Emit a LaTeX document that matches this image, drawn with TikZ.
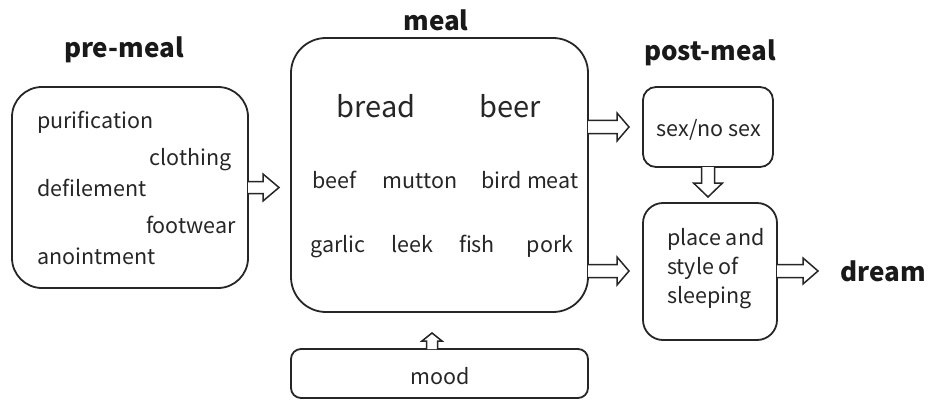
\documentclass[tikz,border=0pt]{standalone}
\usepackage{fontspec}
\setmainfont{Noto Sans CJK SC}
\begin{document}
\begin{tikzpicture}[x=1pt,y=-1pt,
  box/.style={draw=black!85,line width=1.8pt},
  harrow/.style={draw=black!85,line width=1.5pt,fill=white,line join=miter},
  txt/.style={font=\fontsize{21.5}{26}\selectfont,text=black!85,inner sep=0pt},
  word/.style={txt,text height=16pt,text depth=5pt,yshift=-3pt},
  big/.style={font=\fontsize{29}{34}\selectfont,text=black!85,inner sep=0pt,text height=21pt,text depth=6pt,yshift=-3pt},
  ttl/.style={font=\bfseries\fontsize{26}{30}\selectfont,text=black!90,inner sep=0pt}]
\useasboundingbox (0,0) rectangle (928,401);
% boxes
\draw[box,rounded corners=30pt] (12,87) rectangle (248,288);
\draw[box,rounded corners=35pt] (291,38) rectangle (588,312);
\draw[box,rounded corners=13pt] (643,87) rectangle (773,167);
\draw[box,rounded corners=20pt] (643,203) rectangle (777,340);
\draw[box,rounded corners=10pt] (291,349) rectangle (588,398);
% hollow arrows
\draw[harrow] (248,181.5) -- (263,181.5) -- (263,174) -- (279,187.5) -- (263,201) -- (263,193.5) -- (248,193.5);
\draw[harrow] (588,120.5) -- (617,120.5) -- (617,113) -- (629,127) -- (617,141) -- (617,133.5) -- (588,133.5);
\draw[harrow] (588,264.5) -- (617,264.5) -- (617,257) -- (629,271) -- (617,285) -- (617,277.5) -- (588,277.5);
\draw[harrow] (777,264.5) -- (803,264.5) -- (803,258) -- (818,271) -- (803,284) -- (803,277.5) -- (777,277.5);
\draw[harrow] (701.5,167) -- (701.5,183) -- (693.5,183) -- (708,197) -- (722.5,183) -- (714.5,183) -- (714.5,167);
\draw[harrow] (426.5,349) -- (426.5,341) -- (422,341) -- (432,333) -- (442,341) -- (437.5,341) -- (437.5,349);
% titles
\node[ttl] (t1) at (124,50) {pre-meal};
\node[ttl] (t2) at (436,20) {meal};
\node[ttl] (t3) at (710,53) {post-meal};
\node[ttl,anchor=west] (t4) at (840,271) {dream};
% pre-meal content
\node[word,anchor=west] (p1) at (37,120) {purification};
\node[word,anchor=east] (p2) at (232,157) {clothing};
\node[word,anchor=west] (p3) at (37,188) {defilement};
\node[word,anchor=east] (p4) at (236,225) {footwear};
\node[word,anchor=west] (p5) at (37,256) {anointment};
% meal content
\node[big] (m1) at (376,107) {bread};
\node[big] (m2) at (510,107) {beer};
\node[word] (m3) at (334.5,180) {beef};
\node[word] (m4) at (420,180) {mutton};
\node[word] (m5) at (530,180) {bird meat};
\node[word] (m6) at (338,244) {garlic};
\node[word] (m7) at (412,244) {leek};
\node[word] (m8) at (477,244) {fish};
\node[word] (m9) at (550,244) {pork};
% post
\node[word] (s1) at (709,128) {sex/no sex};
\node[txt,anchor=west,align=left,font=\fontsize{21.5}{29}\selectfont] (s2) at (667,269) {place and\\style of\\sleeping};
\node[word] (md) at (440,376) {mood};
\end{tikzpicture}
\end{document}
